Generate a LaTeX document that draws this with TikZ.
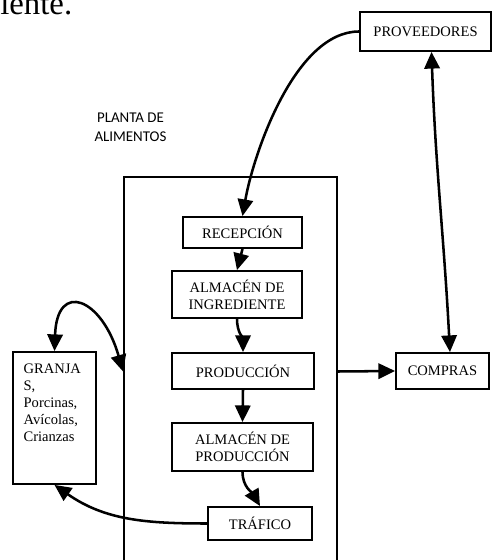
\documentclass[tikz,border=0pt]{standalone}
\usepackage{fontspec}
\setmainfont{Liberation Serif}
\newfontfamily\plantafont{Carlito}
\usetikzlibrary{positioning, arrows.meta}
\newcommand{\boxfont}{\fontsize{10.9pt}{12.75pt}\selectfont}

\begin{document}
\begin{tikzpicture}[
        x=0.75pt, y=0.75pt,
        box/.style={rectangle, draw, line width=1.4pt, inner sep=2pt, align=center, font=\boxfont},
        arrow/.style={-{Triangle[length=12.5pt,width=11.5pt]}, line width=1.9pt},
        twoway/.style={{Triangle[length=12.5pt,width=11.5pt]}-{Triangle[length=12.5pt,width=11.5pt]}, line width=1.9pt}
    ]
    \useasboundingbox (0,0) rectangle (492,560);

    % Cut-off sentence at the top
    \node[anchor=base west, inner sep=0pt, font=\fontsize{24.6pt}{28pt}\selectfont] (cut) at (0,545.5) {iente.};

    % Plant frame and its label
    \node[rectangle, draw, line width=1.4pt, minimum width=159.75pt, minimum height=291.75pt] (planta) at (230.5,188.5) {};
    \node[align=center, font=\plantafont\fontsize{11.2pt}{14.25pt}\selectfont] (plantalbl) at (130.5,432.5) {PLANTA DE\\ALIMENTOS};

    % Process chain inside the plant
    \node[box, minimum width=89.25pt, minimum height=23.25pt] (recep) at (242.5,327.5) {RECEPCIÓN};
    \node[box, minimum width=97.5pt, minimum height=35.25pt] (ingr) at (237,265.5) {ALMACÉN DE\\INGREDIENTE};
    \node[box, minimum width=106.5pt, minimum height=27pt] (prod) at (243,189) {PRODUCCIÓN};
    \node[box, minimum width=105.75pt, minimum height=36pt] (almprod) at (242.5,113) {ALMACÉN DE\\PRODUCCIÓN};
    \node[box, minimum width=78pt, minimum height=24.75pt] (trafico) at (260,36.5) {TRÁFICO};

    % Outside partners
    \node[box, minimum width=98.25pt, minimum height=29.25pt] (prov) at (425.5,528.5) {PROVEEDORES};
    \node[box, minimum width=69.75pt, minimum height=27pt] (compras) at (442.5,189) {COMPRAS};
    \node[box, inner xsep=8pt, inner ysep=9pt] (granjas) at (54.5,142)
        {\parbox[c][81pt][t]{46.25pt}{\raggedright GRANJA\\S,\\Porcinas,\\Avícolas,\\Crianzas}};

    % Flow through the plant
    \draw[arrow] (prov.west) to[out=180,in=80,looseness=0.75] (recep.north);
    \draw[arrow] (recep.south) -- (ingr.north);
    \draw[arrow] (ingr.south) to[out=-90,in=90] (prod.north);
    \draw[arrow] (prod.south) -- (almprod.north);
    \draw[arrow] (almprod.south) to[out=-90,in=120] (trafico.north);
    \draw[arrow] (trafico.west) to[out=180,in=-35] (granjas.south);

    % Links with farms, purchasing and suppliers
    \draw[twoway] (granjas.north) .. controls (57,280) and (102,262) .. (planta.west);
    \draw[arrow] (planta.east) -- (compras.west);
    \draw[twoway] ([xshift=4.5pt]prov.south) to[out=-88,in=93] ([xshift=5.6pt]compras.north);

\end{tikzpicture}
\end{document}
